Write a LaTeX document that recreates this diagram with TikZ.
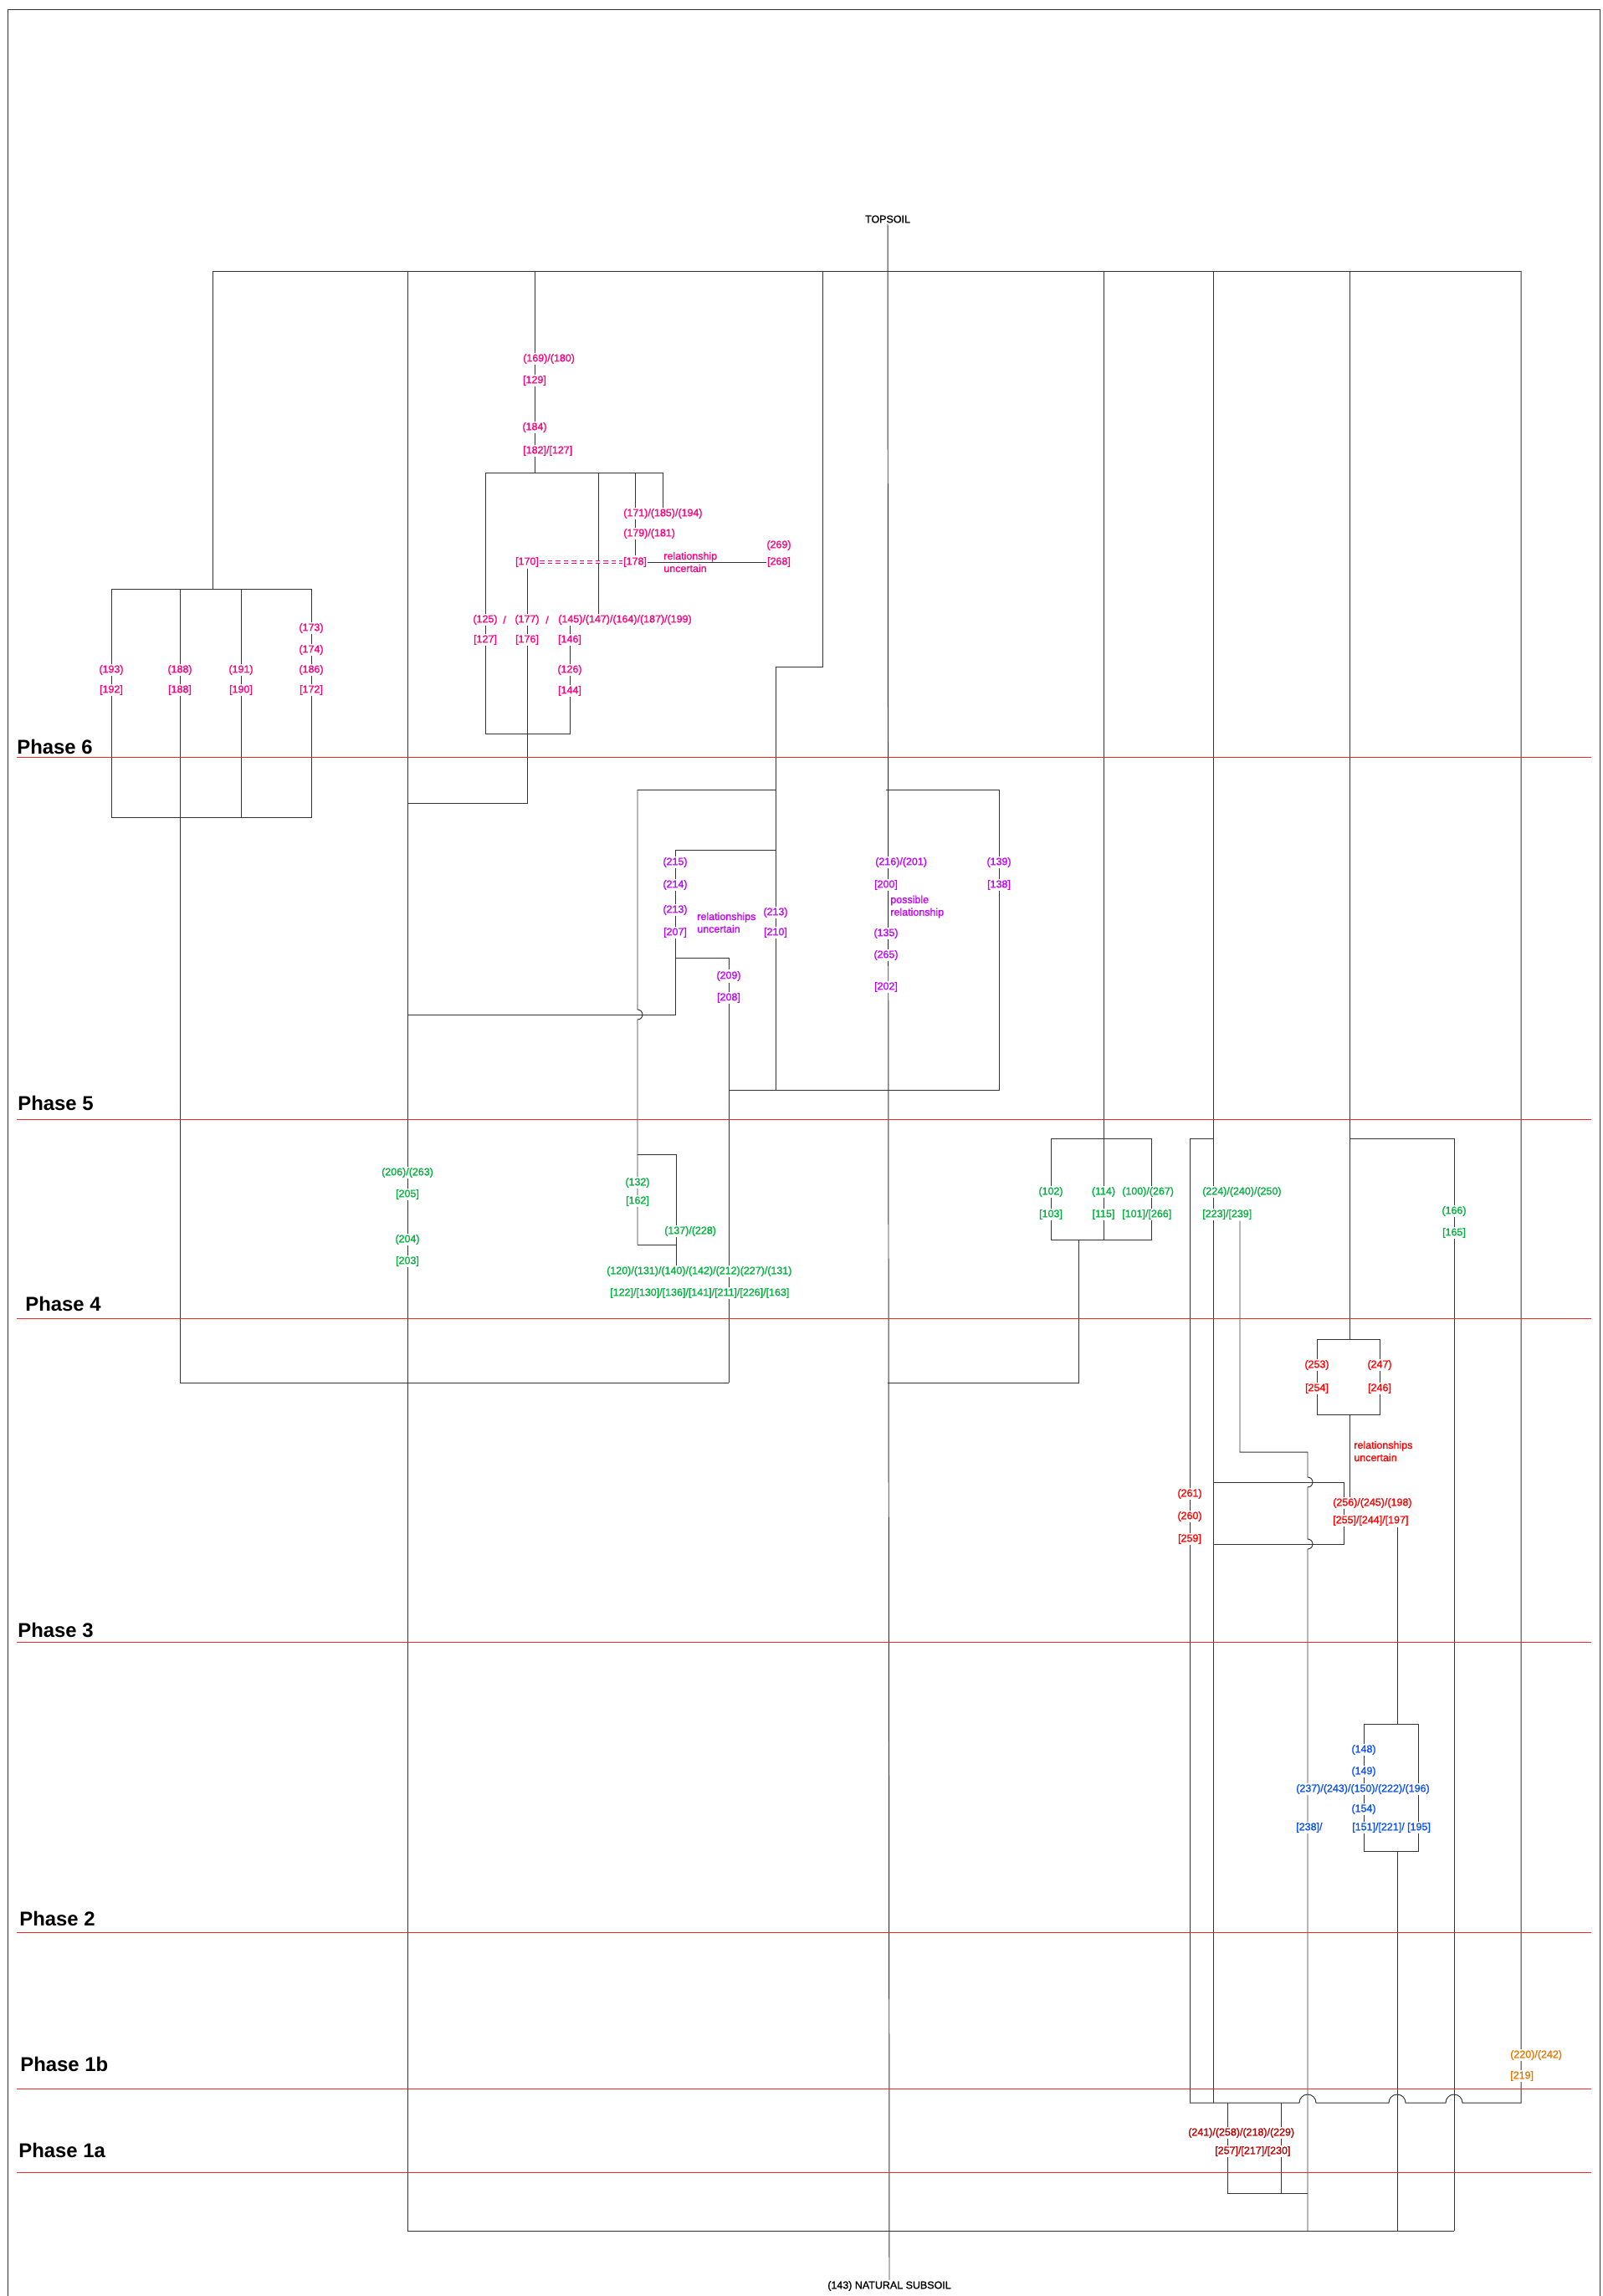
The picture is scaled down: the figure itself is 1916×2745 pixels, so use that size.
\documentclass[tikz,border=0pt]{standalone}
\usepackage{fontspec}
\setmainfont{Liberation Sans}
\newfontfamily\matrixfont{Liberation Sans}[FakeBold=1.2]
\usetikzlibrary{positioning,backgrounds}
\definecolor{MatrixPink}{RGB}{255,0,127}
\definecolor{MatrixViolet}{RGB}{196,0,255}
\definecolor{MatrixGreen}{RGB}{0,178,60}
\definecolor{MatrixRed}{RGB}{255,0,0}
\definecolor{MatrixBlue}{RGB}{10,80,255}
\definecolor{MatrixOrange}{RGB}{230,120,0}
\definecolor{MatrixDarkRed}{RGB}{192,0,0}
\definecolor{PhaseLine}{RGB}{240,40,40}
\tikzset{
  link/.style={draw=black!80,line width=0.55pt},
  dbl/.style={draw=MatrixPink,line width=0.6pt,double=white,double distance=0.9pt,
    dash pattern=on 3.2pt off 2.2pt},
  phaseline/.style={draw=PhaseLine,line width=0.55pt},
  ctx/.style={fill=white,inner xsep=0.5pt,inner ysep=0.8pt,font=\matrixfont\fontsize{7.1}{8.5}\selectfont},
  ctxnote/.style={align=left,inner sep=0pt,font=\matrixfont\fontsize{7.1}{8.5}\selectfont,anchor=west},
  pinklab/.style={ctx,text=MatrixPink},
  violetlab/.style={ctx,text=MatrixViolet},
  greenlab/.style={ctx,text=MatrixGreen},
  redlab/.style={ctx,text=MatrixRed},
  bluelab/.style={ctx,text=MatrixBlue},
  orangelab/.style={ctx,text=MatrixOrange},
  darkredlab/.style={ctx,text=MatrixDarkRed},
  pinknote/.style={ctxnote,text=MatrixPink},
  violetnote/.style={ctxnote,text=MatrixViolet},
  rednote/.style={ctxnote,text=MatrixRed},
  soil/.style={inner sep=0.5pt,font=\matrixfont\fontsize{7.1}{8.5}\selectfont},
  phase/.style={anchor=west,inner sep=0pt,font=\fontsize{13.6}{16}\selectfont\bfseries}
}

\begin{document}
\begin{tikzpicture}[x=0.2mm,y=-0.2mm]
  \useasboundingbox (0,0) rectangle (1916,2745);

  % end points of the sequence
  \node[soil] (topsoil) at (1061,262) {TOPSOIL};
  \node[soil] (subsoil) at (1063,2733) {(143) NATURAL SUBSOIL};

  % phases
  \foreach \y/\ty/\tx/\p in {905/893/20/6,1338/1319/21/5,1576/1559/30/4,1963/1949/21/3,
      2310/2294/23/2,2497/2468/24/1b,2597/2571/22/1a}{
    \node[phase] (ph\p) at (\tx,\ty) {Phase \p};
    \draw[phaseline] (20,\y) -- (1902,\y);
  }

  % phase 6
  \node[pinklab,anchor=west] (n169) at (624,429) {(169)/(180)};
  \node[pinklab] (c129) at (639,455) {[129]};
  \node[pinklab] (n184) at (639,511) {(184)};
  \node[pinklab,anchor=west] (c182) at (624,539) {[182]/[127]};
  \node[pinklab,anchor=west] (n171) at (744,614) {(171)/(185)/(194)};
  \node[pinklab,anchor=west] (n179) at (744,638) {(179)/(181)};
  \node[pinklab] (c178) at (759,672) {[178]};
  \node[pinklab] (c170) at (630,672) {[170]};
  \node[pinklab] (n269) at (931,652) {(269)};
  \node[pinklab] (c268) at (931,672) {[268]};
  \node[pinknote] (unc178) at (793,672) {relationship\\uncertain};
  \node[pinklab] (n125) at (580,741) {(125)};
  \node[pinklab] (sl125) at (603,741) {/};
  \node[pinklab] (n177) at (630,741) {(177)};
  \node[pinklab] (sl177) at (654,741) {/};
  \node[pinklab,anchor=west] (n145) at (666,741) {(145)/(147)/(164)/(187)/(199)};
  \node[pinklab] (c127) at (580,765) {[127]};
  \node[pinklab] (c176) at (630,765) {[176]};
  \node[pinklab] (c146) at (681,765) {[146]};
  \node[pinklab] (n126) at (681,801) {(126)};
  \node[pinklab] (c144) at (681,826) {[144]};
  \node[pinklab] (n193) at (133,801) {(193)};
  \node[pinklab] (c192) at (133,825) {[192]};
  \node[pinklab] (n188) at (215,801) {(188)};
  \node[pinklab] (c188) at (215,825) {[188]};
  \node[pinklab] (n191) at (288,801) {(191)};
  \node[pinklab] (c190) at (288,825) {[190]};
  \node[pinklab] (n173) at (372,751) {(173)};
  \node[pinklab] (n174) at (372,777) {(174)};
  \node[pinklab] (n186) at (372,801) {(186)};
  \node[pinklab] (c172) at (372,825) {[172]};

  % phase 5
  \node[violetlab] (n215) at (807,1031) {(215)};
  \node[violetlab] (n214) at (807,1058) {(214)};
  \node[violetlab] (n213a) at (807,1088) {(213)};
  \node[violetlab] (c207) at (807,1115) {[207]};
  \node[violetnote] (unc207) at (833,1103) {relationships\\uncertain};
  \node[violetlab] (n213b) at (927,1091) {(213)};
  \node[violetlab] (c210) at (927,1115) {[210]};
  \node[violetlab] (n209) at (871,1167) {(209)};
  \node[violetlab] (c208) at (871,1193) {[208]};
  \node[violetlab,anchor=west] (n216) at (1045,1031) {(216)/(201)};
  \node[violetlab] (c200) at (1059,1058) {[200]};
  \node[violetnote] (poss200) at (1064,1084) {possible\\relationship};
  \node[violetlab] (n135) at (1059,1116) {(135)};
  \node[violetlab] (n265) at (1059,1142) {(265)};
  \node[violetlab] (c202) at (1059,1180) {[202]};
  \node[violetlab] (n139) at (1194,1031) {(139)};
  \node[violetlab] (c138) at (1194,1058) {[138]};

  % phase 4
  \node[greenlab] (n206) at (487,1402) {(206)/(263)};
  \node[greenlab] (c205) at (487,1428) {[205]};
  \node[greenlab] (n204) at (487,1482) {(204)};
  \node[greenlab] (c203) at (487,1508) {[203]};
  \node[greenlab] (n132) at (762,1414) {(132)};
  \node[greenlab] (c162) at (762,1436) {[162]};
  \node[greenlab,anchor=west] (n137) at (793,1472) {(137)/(228)};
  \node[greenlab,anchor=west] (n120) at (724,1520) {(120)/(131)/(140)/(142)/(212)(227)/(131)};
  \node[greenlab,anchor=west] (c122) at (728,1546) {[122]/[130]/[136]/[141]/[211]/[226]/[163]};
  \node[greenlab] (n102) at (1256,1425) {(102)};
  \node[greenlab] (c103) at (1256,1452) {[103]};
  \node[greenlab] (n114) at (1319,1425) {(114)};
  \node[greenlab] (c115) at (1319,1452) {[115]};
  \node[greenlab,anchor=west] (n100) at (1340,1425) {(100)/(267)};
  \node[greenlab,anchor=west] (c101) at (1340,1452) {[101]/[266]};
  \node[greenlab,anchor=west] (n224) at (1436,1425) {(224)/(240)/(250)};
  \node[greenlab,anchor=west] (c223) at (1436,1452) {[223]/[239]};
  \node[greenlab] (n166) at (1738,1448) {(166)};
  \node[greenlab] (c165) at (1738,1474) {[165]};

  % phase 3
  \node[redlab] (n253) at (1574,1632) {(253)};
  \node[redlab] (c254) at (1574,1660) {[254]};
  \node[redlab] (n247) at (1649,1632) {(247)};
  \node[redlab] (c246) at (1649,1660) {[246]};
  \node[rednote] (unc256) at (1618,1735) {relationships\\uncertain};
  \node[redlab,anchor=west] (n256) at (1592,1797) {(256)/(245)/(198)};
  \node[redlab,anchor=west] (c255) at (1592,1818) {[255]/[244]/[197]};
  \node[redlab] (n261) at (1422,1786) {(261)};
  \node[redlab] (n260) at (1422,1813) {(260)};
  \node[redlab] (c259) at (1422,1840) {[259]};

  % phase 2
  \node[bluelab] (n148) at (1630,2092) {(148)};
  \node[bluelab] (n149) at (1630,2118) {(149)};
  \node[bluelab,anchor=west] (n237) at (1548,2139) {(237)/(243)/(150)/(222)/(196)};
  \node[bluelab] (n154) at (1630,2163) {(154)};
  \node[bluelab,anchor=west] (c238) at (1548,2185) {[238]/};
  \node[bluelab,anchor=west] (c151) at (1615,2185) {[151]/[221]/ [195]};

  % phase 1
  \node[orangelab,anchor=west] (n220) at (1804,2457) {(220)/(242)};
  \node[orangelab,anchor=west] (c219) at (1804,2482) {[219]};
  \node[darkredlab,anchor=west] (n241) at (1419,2550) {(241)/(258)/(218)/(229)};
  \node[darkredlab,anchor=west] (c257) at (1451,2572) {[257]/[217]/[230]};

  % junctions
  \coordinate (barL) at (254,324);
  \coordinate (barR) at (1818,324);
  \coordinate (lbTL) at (133,704);
  \coordinate (lbBR) at (372,977);
  \coordinate (bl) at (487,324);
  \coordinate (bottomL) at (487,2667);
  \coordinate (bottomR) at (1738,2667);
  \coordinate (sw4) at (871,1653);
  \coordinate (j960) at (630,960);
  \coordinate (pbTL) at (580,565);
  \coordinate (pbR) at (792,565);
  \coordinate (pbBL) at (580,877);
  \coordinate (p715) at (715,565);
  \coordinate (d983) at (983,324);
  \coordinate (d797) at (983,797);
  \coordinate (vbTL) at (762,944);
  \coordinate (vbTR) at (1194,944);
  \coordinate (vbB) at (871,1303);
  \coordinate (hop762) at (762,1213);
  \coordinate (j807) at (807,1213);
  \coordinate (p215top) at (807,1016);
  \coordinate (j1145) at (807,1145);
  \coordinate (gbTL) at (762,1380);
  \coordinate (gbTR) at (808,1380);
  \coordinate (gbBL) at (762,1488);
  \coordinate (gbBR) at (808,1488);
  \coordinate (f1319) at (1319,324);
  \coordinate (gb2TL) at (1256,1361);
  \coordinate (gb2BR) at (1376,1482);
  \coordinate (j1289) at (1289,1482);
  \coordinate (j1653) at (1289,1653);
  \coordinate (g1450) at (1450,324);
  \coordinate (g1450b) at (1450,2514);
  \coordinate (g1422) at (1422,1361);
  \coordinate (k1482) at (1482,1736);
  \coordinate (k1563) at (1563,1736);
  \coordinate (h1772) at (1563,1772);
  \coordinate (h1846) at (1563,1846);
  \coordinate (sbTL) at (1450,1772);
  \coordinate (sbBR) at (1606,1846);
  \coordinate (r1613) at (1613,324);
  \coordinate (rbTL) at (1574,1601);
  \coordinate (rbBR) at (1649,1691);
  \coordinate (j1361) at (1613,1361);
  \coordinate (s1738) at (1738,1361);
  \coordinate (bb1670) at (1670,2061);
  \coordinate (bbTL) at (1630,2061);
  \coordinate (bbBR) at (1695,2213);
  \coordinate (e1818) at (1818,2514);
  \coordinate (hopA) at (1563,2514);
  \coordinate (hopB) at (1670,2514);
  \coordinate (hopC) at (1738,2514);
  \coordinate (m1467) at (1467,2514);
  \coordinate (m1531) at (1531,2514);
  \coordinate (q1467) at (1467,2622);
  \coordinate (q1563) at (1563,2622);

  \begin{scope}[on background layer]
    \draw[link] (9,2745) -- (9,11) -- (1912,11) -- (1912,2745);
    \draw[link] (barL) -- (barR);
    \draw[link] (topsoil) -- (subsoil);

    % phase 6 links
    \draw[link] (barL) -- (barL |- lbTL);
    \draw[link] (lbTL) rectangle (lbBR);
    \draw[link] (n191 |- lbTL) -- (n191 |- lbBR);
    \draw[link] (n188 |- lbTL) -- (n188 |- sw4) -- (sw4);
    \draw[link] (bl) -- (bottomL) -- (bottomR);
    \draw[link] (c170) -- (j960) -- (bl |- j960);
    \draw[link] (n184 |- barL) -- (n184 |- pbTL);
    \draw[link] (pbTL) -- (pbR);
    \draw[link] (pbTL) -- (pbBL) -| (c146 |- n145);
    \draw[link] (p715) -- (p715 |- n145);
    \draw[link] (c178 |- pbR) -- (c178);
    \draw[link] (pbR) -- (pbR |- n171);
    \draw[link] (c178) -- (c268);
    \draw[dbl] (c170) -- (c178);

    % phase 5 links
    \draw[link] (d983) -- (d797) -| (vbB -| n213b);
    \draw[link] (vbTL) -- (vbTL -| n213b);
    \draw[link] (vbTR -| c200) -- (vbTR) -- (vbTR |- vbB) -- (vbB);
    \draw[link] (vbTL) -- ([yshift=1.2mm]hop762)
      arc[start angle=90,end angle=-90,radius=1.2mm] -- (gbBL);
    \draw[link] (bl |- j807) -- (j807) -- (p215top) -- (p215top -| n213b);
    \draw[link] (j1145) -| (n209);
    \draw[link] (n209) -- (sw4);

    % phase 4 links
    \draw[link] (gbTL) -- (gbTR) -- (gbTR |- n120);
    \draw[link] (gbBL) -- (gbBR);
    \draw[link] (f1319) -- (f1319 |- gb2BR);
    \draw[link] (gb2TL) rectangle (gb2BR);
    \draw[link] (j1289) -- (j1653) -- (topsoil |- j1653);
    \draw[link] (g1450) -- (g1450b);
    \draw[link] (g1450 |- g1422) -- (g1422) -- (g1422 |- g1450b);
    \draw[link] (c223.south -| k1482) -- (k1482) -- (k1563)
      -- ([yshift=1.2mm]h1772) arc[start angle=90,end angle=-90,radius=1.2mm]
      -- ([yshift=1.2mm]h1846) arc[start angle=90,end angle=-90,radius=1.2mm]
      -- (k1563 |- bottomR);
    \draw[link] (sbTL) -- (sbTL -| sbBR) -- (sbBR) -- (sbBR -| sbTL);

    % phase 3 and 2 links
    \draw[link] (r1613) -- (r1613 |- rbTL);
    \draw[link] (rbTL) rectangle (rbBR);
    \draw[link] (j1361) -- (s1738) -- (bottomR);
    \draw[link] (r1613 |- rbBR) -- (r1613 |- n256);
    \draw[link] (c255.south -| bb1670) -- (bb1670);
    \draw[link] (bbTL) rectangle (bbBR);
    \draw[link] (bb1670 |- bbBR) -- (bb1670 |- bottomR);

    % phase 1 links
    \draw[link] (barR) -- (e1818) -- ([xshift=2mm]hopC)
      arc[start angle=0,end angle=180,radius=2mm] -- ([xshift=2mm]hopB)
      arc[start angle=0,end angle=180,radius=2mm] -- ([xshift=2mm]hopA)
      arc[start angle=0,end angle=180,radius=2mm] -- (g1422 |- e1818);
    \draw[link] (m1467) -- (q1467) -- (q1563);
    \draw[link] (m1531) -- (m1531 |- q1467);
  \end{scope}
\end{tikzpicture}
\end{document}
